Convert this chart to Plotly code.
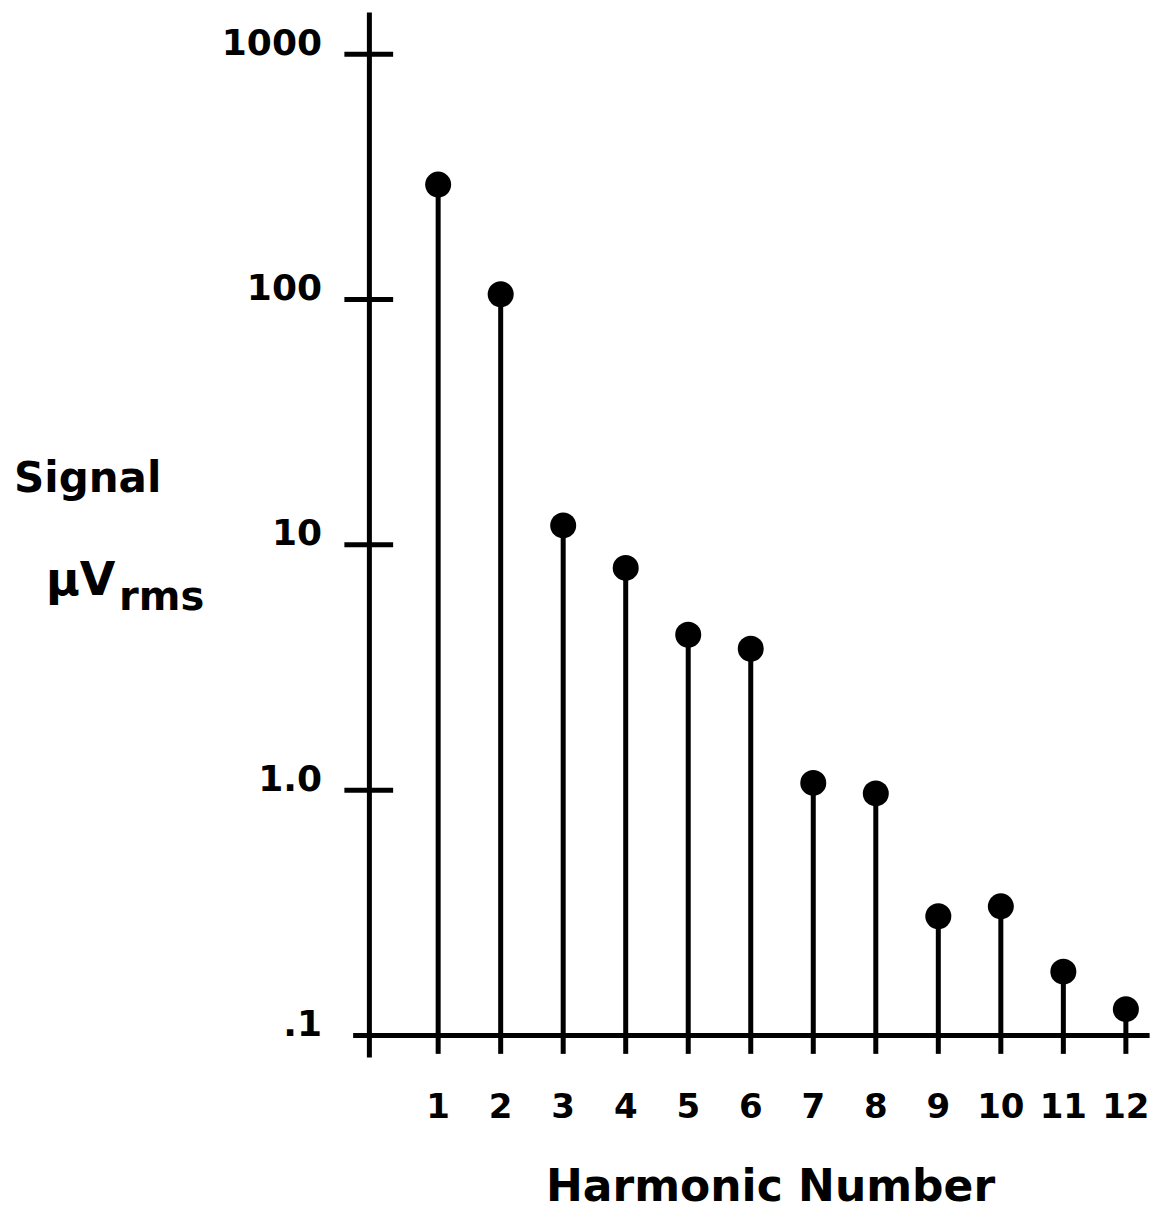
import plotly.graph_objects as go

harmonics = [1, 2, 3, 4, 5, 6, 7, 8, 9, 10, 11, 12]
signal_uv = [294, 105, 12.0, 8.05, 4.3, 3.77, 1.07, 0.97, 0.306, 0.336, 0.182, 0.128]
y_tick_vals = [0.1, 1, 10, 100, 1000]
y_tick_text = [".1", "1.0", "10", "100", "1000"]
x_tick_vals = harmonics
x_tick_text = [str(h) for h in harmonics]

BASE = 0.1
FONT = "DejaVu Sans"
LW = 5

# stems
sx, sy = [], []
for h, v in zip(harmonics, signal_uv):
    sx += [h, h, None]
    sy += [v, BASE, None]

fig = go.Figure()
fig.add_trace(go.Scatter(x=sx, y=sy, mode="lines",
                         line=dict(color="black", width=LW), hoverinfo="skip"))
fig.add_trace(go.Scatter(x=harmonics, y=signal_uv, mode="markers",
                         marker=dict(color="black", size=26, line=dict(width=0))))

# page has an 8px body margin; figure sized to fit inside it
OFF = 8
W, H = 1150, 1197
L, R, T, B = 327, 4, 2, 145

shapes = []
# x axis line
shapes.append(dict(type="line", xref="x", yref="y", x0=-0.36, x1=12.38, y0=BASE, y1=BASE,
                   line=dict(color="black", width=LW)))
# y axis line
shapes.append(dict(type="line", xref="x", yref="y", x0=-0.1, x1=-0.1, y0=10**-1.09, y1=10**3.17,
                   line=dict(color="black", width=LW)))
# y ticks (crossing the axis)
for v in y_tick_vals[1:]:
    shapes.append(dict(type="line", xref="x", yref="y", x0=-0.5, x1=0.28, y0=v, y1=v,
                       line=dict(color="black", width=LW)))
# x ticks (below the axis)
for h in harmonics:
    shapes.append(dict(type="line", xref="x", yref="y", x0=h, x1=h, y0=BASE, y1=10**-1.075,
                       line=dict(color="black", width=LW)))

fig.update_layout(
    width=W, height=H,
    margin=dict(l=L, r=R, t=T, b=B),
    paper_bgcolor="white", plot_bgcolor="white",
    showlegend=False,
    shapes=shapes,
    xaxis=dict(range=[-0.65, 12.45], showgrid=False, zeroline=False, showline=False,
               tickmode="array", tickvals=x_tick_vals, ticktext=x_tick_text, ticks="",
               ticklabelstandoff=23,
               tickfont=dict(family=FONT, size=34, color="black", weight="bold")),
    yaxis=dict(type="log", range=[-1.1, 3.18], showgrid=False, zeroline=False, showline=False,
               tickmode="array", tickvals=y_tick_vals, ticktext=y_tick_text, ticks="",
               ticklabelstandoff=12, ticklabelshift=-12,
               tickfont=dict(family=FONT, size=36, color="black", weight="bold")),
)

def px2paper_x(px):
    return (px - OFF - L) / (W - L - R)

def px2paper_y(py):
    return (H - B - (py - OFF)) / (H - T - B)

fig.add_annotation(text="Signal", xref="paper", yref="paper",
                   x=px2paper_x(12), y=px2paper_y(477), xanchor="left", yanchor="middle",
                   showarrow=False, font=dict(family=FONT, size=42, color="black", weight="bold"))
fig.add_annotation(text="μV", xref="paper", yref="paper",
                   x=px2paper_x(44), y=px2paper_y(579), xanchor="left", yanchor="middle",
                   showarrow=False, font=dict(family=FONT, size=46, color="black", weight="bold"))
fig.add_annotation(text="rms", xref="paper", yref="paper",
                   x=px2paper_x(117), y=px2paper_y(596), xanchor="left", yanchor="middle",
                   showarrow=False, font=dict(family=FONT, size=40, color="black", weight="bold"))
fig.add_annotation(text="Harmonic Number", xref="paper", yref="paper",
                   x=px2paper_x(770), y=px2paper_y(1185), xanchor="center", yanchor="middle",
                   showarrow=False, font=dict(family=FONT, size=44, color="black", weight="bold"))

fig.write_html("out.html")
